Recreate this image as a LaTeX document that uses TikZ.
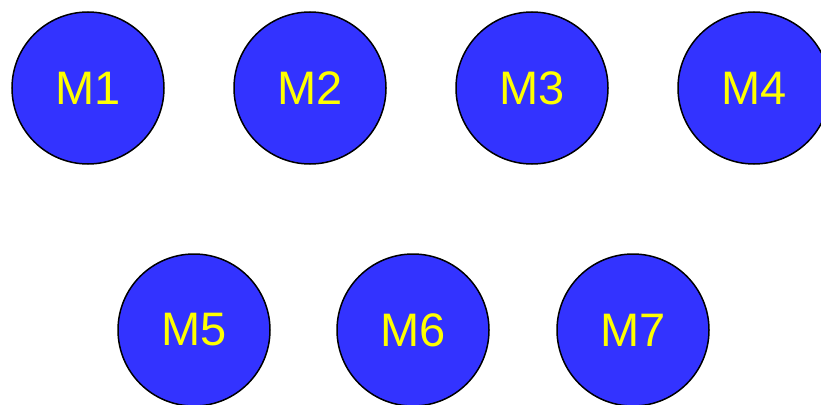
\documentclass[tikz,border=0pt]{standalone}
\usepackage{fontspec}
\setmainfont{Liberation Sans}
\definecolor{mblue}{HTML}{3333FF}
\definecolor{myellow}{HTML}{FFFF00}
\begin{document}
\begin{tikzpicture}[x=1pt,y=-1pt,
  mnode/.style={circle,draw=black,line width=1.5pt,fill=mblue,minimum size=152pt,inner sep=0pt,
    text=myellow,font=\fontsize{47}{50}\selectfont}]
\useasboundingbox (0,0) rectangle (821,404);
\clip (0,0) rectangle (821,404);
\node[mnode] (m1) at (88,88) {M1};
\node[mnode] (m2) at (310,88) {M2};
\node[mnode] (m3) at (532,88) {M3};
\node[mnode] (m4) at (754,88) {M4};
\node[mnode] (m5) at (194,330) {M5};
\node[mnode] (m6) at (413,330) {M6};
\node[mnode] (m7) at (633,330) {M7};
\end{tikzpicture}
\end{document}
